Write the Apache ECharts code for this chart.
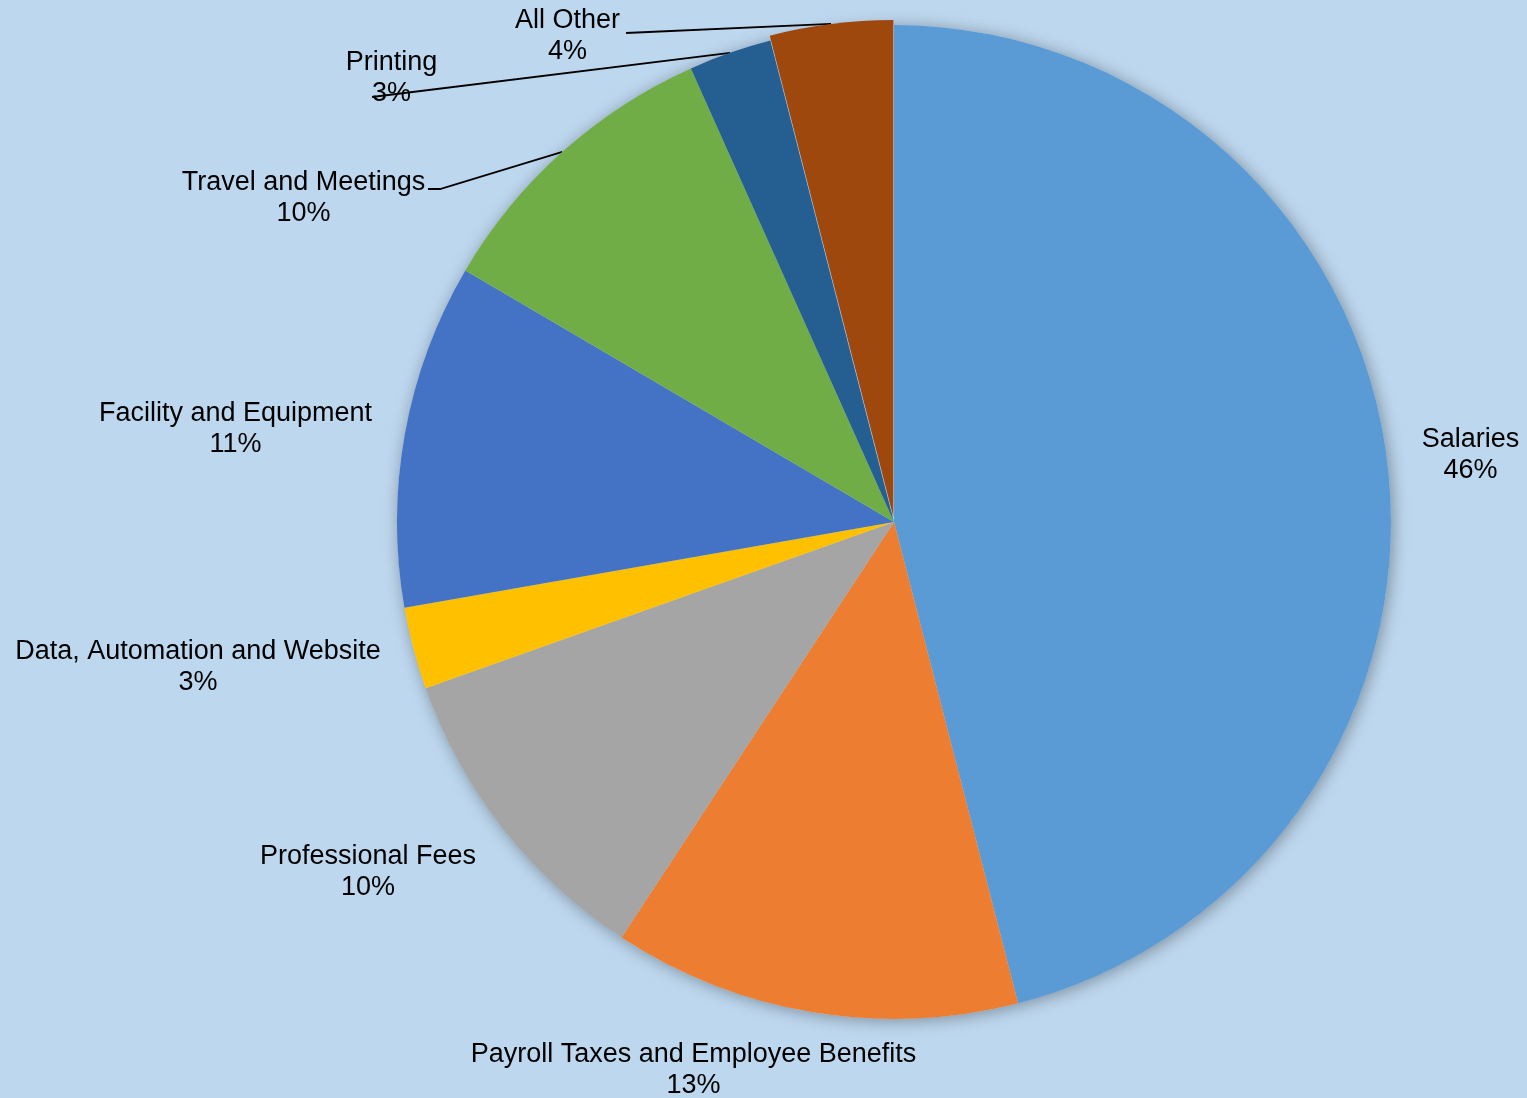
<!DOCTYPE html>
<html><head><meta charset="utf-8">
<script src="https://cdn.jsdelivr.net/npm/echarts@6/dist/echarts.min.js"></script>
<style>html,body{margin:0;padding:0;background:#BDD7EE;}#c{width:1527px;height:1098px;}</style>
</head><body><div id="c"></div>
<script>
// ---- data ----
const categories = ['Salaries', 'Payroll Taxes and Employee Benefits', 'Professional Fees',
  'Data, Automation and Website', 'Facility and Equipment', 'Travel and Meetings', 'Printing', 'All Other'];
const values = [45.97, 13.25, 10.33, 2.67, 11.2, 9.85, 2.7, 4.0];

// ---- style / layout ----
const colors = ['#5B9BD5', '#ED7D31', '#A5A5A5', '#FFC000', '#4472C4', '#70AD47', '#255E91', '#9E480E'];
const bg = '#BDD7EE';
const CX = 894, CY = 522, R = 497, EXPLODE = 5;
const explodedIndex = 7;
// label placement (label centres), like manually positioned data labels
const labelCenters = [[1470.5, 455.5], [693.5, 1070], [368, 872.5], [198, 667.5],
  [235.5, 429.5], [303.5, 198], [391.5, 78.5], [567.5, 36]];
// leader line ends on the label side (only for labels that were moved away)
const leaderEnds = { 5: [[440, 189], [428, 189]], 6: [[372, 97], [372, 97]], 7: [[626, 33], [626, 33]] };

const total = values.reduce((a, b) => a + b, 0);
const midAngles = [];
let acc = 0;
values.forEach(v => { midAngles.push((acc + v / 2) / total * 360); acc += v; });
const exA = midAngles[explodedIndex] * Math.PI / 180;
const exCenter = [CX + EXPLODE * Math.sin(exA), CY - EXPLODE * Math.cos(exA)];

const chart = echarts.init(document.getElementById('c'), null, { renderer: 'canvas' });
const font = { fontFamily: 'Liberation Sans, Arial, sans-serif', fontSize: 27, lineHeight: 31, color: '#000' };

chart.setOption({
  backgroundColor: bg,
  animation: false,
  series: [
    {
      type: 'pie', silent: true, center: [CX, CY], radius: R, z: 1,
      label: { show: false }, labelLine: { show: false },
      itemStyle: { color: bg, shadowBlur: 16, shadowColor: 'rgba(0,0,0,0.35)', shadowOffsetX: 2, shadowOffsetY: 2 },
      data: [{ value: total, name: 'shadow' }]
    },
    {
      type: 'pie', z: 2,
      center: [CX, CY], radius: R, startAngle: 90, clockwise: true,
      avoidLabelOverlap: false,
      itemStyle: { borderWidth: 0 },
      label: {
        show: true, position: 'outside', ...font,
        formatter: p => p.name + '\n' + Math.round(p.value / total * 100) + '%'
      },
      labelLine: { show: false, lineStyle: { color: '#000', width: 1.8 } },
      labelLayout: function (p) {
        const i = p.dataIndex;
        const c = labelCenters[i];
        const out = { x: c[0], y: c[1], align: 'center', verticalAlign: 'middle' };
        if (leaderEnds[i]) {
          const a = midAngles[i] * Math.PI / 180;
          const rr = R + (i === explodedIndex ? EXPLODE : 0);
          const rim = [CX + rr * Math.sin(a), CY - rr * Math.cos(a)];
          out.labelLinePoints = [rim, leaderEnds[i][0], leaderEnds[i][1]];
        }
        return out;
      },
      emphasis: { disabled: true },
      data: categories.map((n, i) => ({
        name: n, value: values[i],
        itemStyle: { color: i === explodedIndex ? 'rgba(0,0,0,0)' : colors[i] },
        labelLine: { show: !!leaderEnds[i] }
      }))
    },
    {
      // exploded slice, drawn from the same data with its centre pushed out
      type: 'pie', silent: true, z: 3,
      center: exCenter, radius: R, startAngle: 90, clockwise: true,
      label: { show: false }, labelLine: { show: false },
      emphasis: { disabled: true },
      data: categories.map((n, i) => ({
        name: n, value: values[i],
        itemStyle: { color: i === explodedIndex ? colors[i] : 'rgba(0,0,0,0)' }
      }))
    }
  ]
});
</script></body></html>
